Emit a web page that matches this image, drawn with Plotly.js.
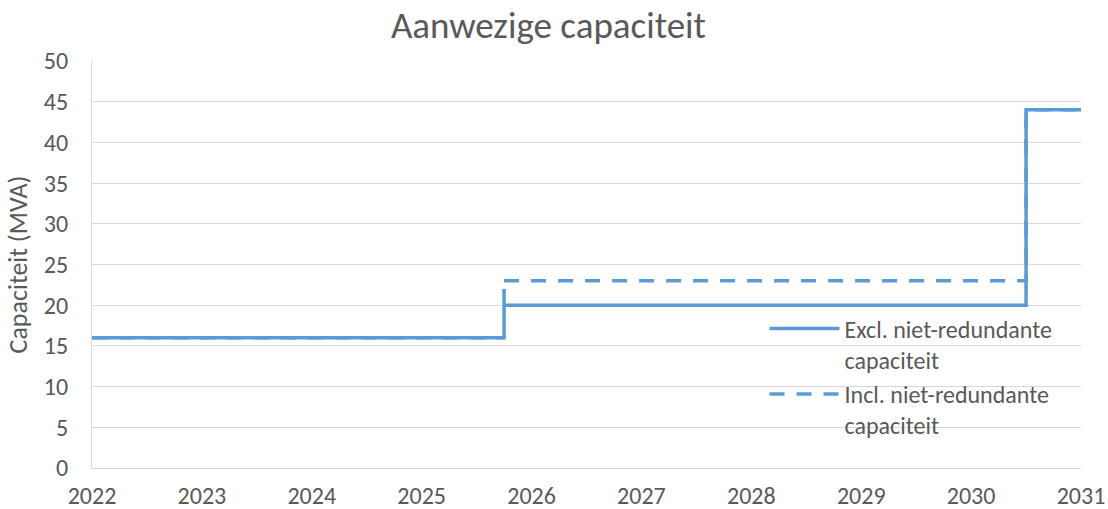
<!DOCTYPE html>
<html><head><meta charset="utf-8">
<script src="https://cdn.plot.ly/plotly-3.0.1.min.js"></script>
<style>body{margin:0;background:#fff}#chart{width:1108px;height:509px}</style>
</head><body><div id="chart"></div>
<script>
const exclX = [2022, 2025.75, 2025.75, 2025.75, 2030.5, 2030.5, 2031];
const exclY = [16, 16, 22, 20, 20, 44, 44];
const inclX = [2022, 2025.75, null, 2025.75, 2030.5, 2030.5, 2031];
const inclY = [16, 16, null, 23, 23, 44, 44];
const seriesNames = ['Excl. niet-redundante<br>capaciteit', 'Incl. niet-redundante<br>capaciteit'];
const col = '#5B9BD5';
const txt = '#595959';
const font = 'Carlito, Calibri, Lato, sans-serif';

Plotly.newPlot('chart', [
  {x: exclX, y: exclY, mode: 'lines', name: seriesNames[0], line: {color: col, width: 3.5}},
  {x: inclX, y: inclY, mode: 'lines', name: seriesNames[1], connectgaps: false, line: {color: col, width: 3.5, dash: '15px,12px'}}
], {
  width: 1108, height: 509,
  margin: {l: 92, r: 27, t: 61, b: 41},
  paper_bgcolor: '#fff', plot_bgcolor: '#fff',
  font: {family: font, color: txt, size: 24},
  title: {text: 'Aanwezige capaciteit', font: {size: 37, color: txt, family: font}, x: 0.495, xanchor: 'center', y: 0.951, yanchor: 'middle'},
  xaxis: {range: [2022, 2031], dtick: 1, tick0: 2022, tickformat: 'd', showgrid: false, zeroline: false,
    showline: true, linecolor: '#d9d9d9', linewidth: 1, ticks: '', ticklabelstandoff: 6, tickfont: {size: 24, color: txt}},
  yaxis: {range: [0, 50], dtick: 5, showgrid: true, gridcolor: '#d9d9d9', gridwidth: 1, zeroline: false,
    showline: true, linecolor: '#d9d9d9', linewidth: 1, ticks: '', ticklabelstandoff: 18, tickfont: {size: 24, color: txt},
    title: {text: 'Capaciteit (MVA)', font: {size: 26, color: txt}, standoff: 8}},
  legend: {x: 0.68, y: 0.397, xanchor: 'left', yanchor: 'top', valign: 'top', itemwidth: 70, bgcolor: 'rgba(0,0,0,0)', font: {size: 24, color: txt}, tracegroupgap: 0},
  showlegend: true
}, {staticPlot: true});
</script></body></html>
